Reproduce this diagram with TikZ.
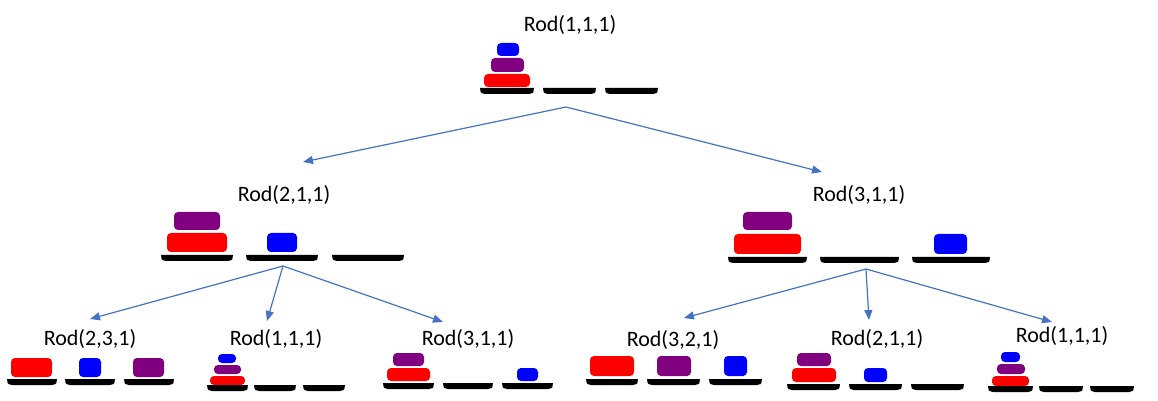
\documentclass[tikz,border=0pt]{standalone}
\usepackage{fontspec}
\setmainfont{Carlito}
\usepackage{tikz}
\usetikzlibrary{arrows.meta,positioning,calc}
\definecolor{diskred}{RGB}{255,0,0}
\definecolor{diskpurple}{RGB}{128,0,128}
\definecolor{diskblue}{RGB}{0,0,255}
\definecolor{linkblue}{RGB}{68,114,196}
\newcommand{\disk}[3]{\fill[#1,rounded corners=2pt] #2 rectangle #3;}
\newcommand{\rodbar}[3]{\fill[black] (#1,#3) -- (#2,#3) {[rounded corners=1.5pt] -- (#2,#3+3) -- ($(#2,#3+6)+(-2,0)$) -- ($(#1,#3+6)+(2,0)$) -- (#1,#3+3)} -- cycle;}
\tikzset{
  rodtitle/.style={font=\fontsize{11}{13}\selectfont,inner sep=1pt},
  link/.style={linkblue,line width=0.6pt,-{Triangle[length=5pt,width=4pt]}}
}

\begin{document}
\begin{tikzpicture}[x=0.5pt,y=-0.5pt]
\useasboundingbox (0,0) rectangle (1158,401);
% top state
\node[rodtitle] (t0) at (570,25) {Rod(1,1,1)};
\disk{diskblue}{(497,43)}{(519,56)} \disk{diskpurple}{(491,58)}{(524,72)} \disk{diskred}{(484,74)}{(530,87)}
\rodbar{480}{534}{88} \rodbar{543}{596}{88} \rodbar{605}{658}{88}
% second level
\node[rodtitle] (t1) at (284,195) {Rod(2,1,1)};
\disk{diskpurple}{(174,212)}{(220,230)} \disk{diskred}{(167,233)}{(227,252)} \disk{diskblue}{(267,233)}{(297,252)}
\rodbar{161}{233}{255} \rodbar{246}{318}{255} \rodbar{332}{404}{255}
\node[rodtitle] (t2) at (859,195) {Rod(3,1,1)};
\disk{diskpurple}{(743,212)}{(792,230)} \disk{diskred}{(734,234)}{(801,254)} \disk{diskblue}{(934,234)}{(967,254)}
\rodbar{728}{807}{257} \rodbar{820}{899}{257} \rodbar{912}{990}{257}
% third level, left
\node[rodtitle] (t11) at (90,339) {Rod(2,3,1)};
\disk{diskred}{(11,358)}{(52,377)} \disk{diskblue}{(79,358)}{(101,377)} \disk{diskpurple}{(133,358)}{(164,377)}
\rodbar{7}{57}{379} \rodbar{65}{115}{379} \rodbar{124}{174}{379}
\node[rodtitle] (t12) at (276,339) {Rod(1,1,1)};
\disk{diskblue}{(218,354)}{(236,363)} \disk{diskpurple}{(214,365)}{(241,374)} \disk{diskred}{(210,376)}{(245,385)}
\rodbar{207}{248}{385} \rodbar{254}{296}{385} \rodbar{303}{345}{385}
\node[rodtitle] (t13) at (468,339) {Rod(3,1,1)};
\disk{diskpurple}{(393,353)}{(424,366)} \disk{diskred}{(387,368)}{(430,381)} \disk{diskblue}{(517,368)}{(538,381)}
\rodbar{383}{434}{383} \rodbar{443}{493}{383} \rodbar{502}{553}{383}
% third level, right
\node[rodtitle] (t21) at (673,340) {Rod(3,2,1)};
\disk{diskred}{(590,356)}{(634,376)} \disk{diskpurple}{(657,356)}{(691,376)} \disk{diskblue}{(724,356)}{(747,376)}
\rodbar{586}{638}{379} \rodbar{647}{700}{379} \rodbar{709}{762}{379}
\node[rodtitle] (t22) at (877,339) {Rod(2,1,1)};
\disk{diskpurple}{(797,353)}{(831,366)} \disk{diskred}{(792,368)}{(836,382)} \disk{diskblue}{(864,368)}{(887,382)}
\rodbar{787}{840}{384} \rodbar{849}{902}{384} \rodbar{911}{964}{384}
\node[rodtitle] (t23) at (1062,336) {Rod(1,1,1)};
\disk{diskblue}{(1001,352)}{(1020,362)} \disk{diskpurple}{(997,364)}{(1025,374)} \disk{diskred}{(992,376)}{(1029,386)}
\rodbar{988}{1033}{386} \rodbar{1039}{1083}{386} \rodbar{1090}{1134}{386}
% moves
\coordinate (a0) at (566,107);
\coordinate (a1) at (283,266);
\coordinate (a2) at (866,269);
\coordinate (e1) at (303,162);
\coordinate (e2) at (822,172);
\coordinate (e11) at (90,319);
\coordinate (e12) at (267,321);
\coordinate (e13) at (443,322);
\coordinate (e21) at (684,318);
\coordinate (e22) at (869,320);
\coordinate (e23) at (1052,322);
\draw[link] (a0) -- (e1);
\draw[link] (a0) -- (e2);
\draw[link] (a1) -- (e11);
\draw[link] (a1) -- (e12);
\draw[link] (a1) -- (e13);
\draw[link] (a2) -- (e21);
\draw[link] (a2) -- (e22);
\draw[link] (a2) -- (e23);
\end{tikzpicture}
\end{document}
